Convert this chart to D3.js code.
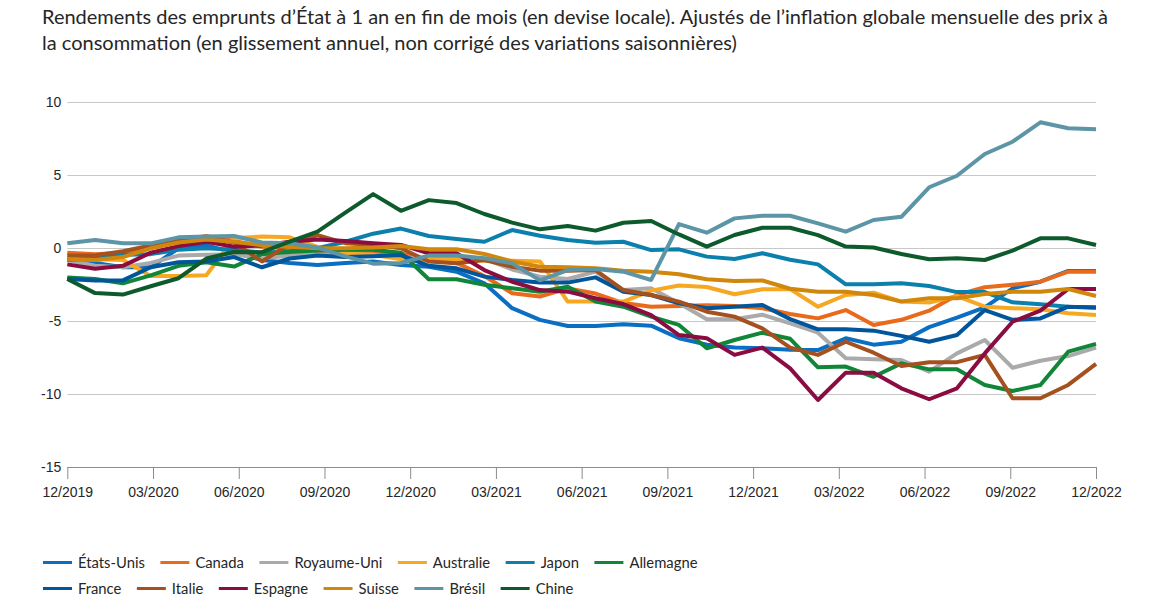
<!DOCTYPE html>
<html>
<head>
<meta charset="utf-8">
<script src="https://cdn.jsdelivr.net/npm/d3@7"></script>
<style>
  html, body { margin: 0; padding: 0; background: #ffffff; }
  svg { display: block; }
</style>
</head>
<body>
<svg id="chart" width="1166" height="607"></svg>
<script>
// ---------------- DATA ----------------
const titleLines = [
  "Rendements des emprunts d\u2019État à 1 an en fin de mois (en devise locale). Ajustés de l\u2019inflation globale mensuelle des prix à",
  "la consommation (en glissement annuel, non corrigé des variations saisonnières)"
];

const tickLabels = ["12/2019","03/2020","06/2020","09/2020","12/2020","03/2021","06/2021",
                    "09/2021","12/2021","03/2022","06/2022","09/2022","12/2022"];

const yTicks = [10, 5, 0, -5, -10, -15];

const countries = ["États-Unis","Canada","Royaume-Uni","Australie","Japon","Allemagne",
                   "France","Italie","Espagne","Suisse","Brésil","Chine"];

const colors = ["#0a6fc2","#ea6a1c","#aaaaaa","#f7a823","#0b80ad","#118538",
                "#00559b","#a5501f","#8a0c40","#d0870b","#5c95a6","#0d5a2c"];

const etatsUnis = [-0.7,-1.0,-1.3,-1.3,0.0,0.2,-0.3,-0.8,-1.0,-1.15,-1.0,-0.9,-1.15,-1.26,-1.6,-2.4,-4.1,-4.9,-5.32,-5.32,-5.2,-5.3,-6.16,-6.6,-6.8,-6.85,-6.95,-6.97,-6.16,-6.6,-6.4,-5.4,-4.75,-4.04,-2.74,-2.29,-1.55,-1.55];
const canada    = [-0.3,-0.4,-0.3,0.1,0.5,0.85,0.5,0.1,0.0,-0.2,-0.3,-0.3,-0.35,-0.8,-1.0,-1.9,-3.08,-3.3,-2.75,-3.1,-3.75,-4.0,-3.95,-3.9,-3.95,-4.1,-4.5,-4.8,-4.23,-5.25,-4.9,-4.27,-3.2,-2.67,-2.5,-2.29,-1.6,-1.6];
const royaumeUni = [-0.8,-1.2,-1.3,-1.0,-0.5,-0.45,-0.4,-0.7,-0.5,-0.4,-0.5,-0.5,-0.6,-0.75,-0.6,-0.7,-1.45,-1.94,-2.1,-1.6,-2.86,-2.74,-3.77,-4.86,-4.86,-4.55,-5.14,-5.78,-7.53,-7.6,-7.65,-8.45,-7.2,-6.28,-8.18,-7.7,-7.38,-6.8];
const australie = [-0.7,-0.75,-0.8,-1.9,-1.9,-1.85,0.7,0.8,0.75,0.1,-0.35,-0.45,-0.75,-0.8,-0.8,-0.85,-0.85,-0.9,-3.65,-3.65,-3.65,-2.9,-2.55,-2.65,-3.15,-2.8,-2.8,-4.0,-3.2,-3.04,-3.65,-3.72,-3.27,-4.0,-4.1,-4.18,-4.45,-4.57];
const japon     = [-0.8,-0.7,-0.45,-0.4,-0.1,0.0,-0.1,-0.3,-0.2,0.0,0.45,1.0,1.35,0.84,0.64,0.45,1.25,0.86,0.57,0.38,0.45,-0.12,-0.07,-0.57,-0.73,-0.34,-0.78,-1.1,-2.47,-2.47,-2.4,-2.58,-3.0,-3.0,-3.7,-3.84,-4.0,-4.04];
const allemagne = [-2.0,-2.1,-2.4,-1.85,-1.2,-0.95,-1.25,-0.4,-0.25,-0.15,-0.1,-0.1,-0.3,-2.12,-2.12,-2.5,-2.74,-2.97,-2.63,-3.65,-4.0,-4.68,-5.25,-6.85,-6.28,-5.78,-6.2,-8.15,-8.1,-8.8,-7.88,-8.29,-8.29,-9.36,-9.77,-9.36,-7.08,-6.55];
const france    = [-2.1,-2.2,-2.2,-1.3,-0.95,-0.9,-0.6,-1.3,-0.7,-0.5,-0.6,-0.55,-0.46,-1.2,-1.37,-1.94,-2.17,-2.35,-2.35,-1.99,-2.97,-3.2,-3.77,-4.1,-4.0,-3.88,-4.85,-5.55,-5.55,-5.64,-6.0,-6.4,-5.94,-4.23,-4.9,-4.8,-4.0,-4.07];
const italie    = [-0.5,-0.5,-0.2,0.2,0.55,0.8,0.4,-0.9,0.3,0.9,0.35,0.25,0.0,-0.9,-1.03,-0.8,-1.26,-1.53,-1.53,-1.49,-2.86,-3.2,-3.65,-4.34,-4.68,-5.48,-6.8,-7.3,-6.4,-7.15,-8.06,-7.8,-7.8,-7.3,-10.27,-10.27,-9.36,-7.92];
const espagne   = [-1.1,-1.4,-1.2,-0.3,0.15,0.45,0.1,0.2,0.45,0.6,0.5,0.35,0.23,-0.34,-0.34,-1.49,-2.29,-2.86,-2.97,-3.42,-3.82,-4.57,-5.94,-6.16,-7.3,-6.8,-8.22,-10.39,-8.52,-8.52,-9.59,-10.34,-9.59,-7.2,-5.03,-4.27,-2.79,-2.79];
const suisse    = [-0.75,-0.8,-0.6,0.0,0.4,0.6,0.45,0.2,0.1,0.0,0.0,0.05,0.15,-0.07,-0.07,-0.39,-0.9,-1.26,-1.3,-1.37,-1.53,-1.6,-1.78,-2.12,-2.24,-2.2,-2.77,-2.97,-2.97,-3.2,-3.65,-3.42,-3.42,-3.13,-2.97,-2.97,-2.79,-3.27];
const bresil    = [0.34,0.57,0.34,0.34,0.75,0.8,0.84,0.4,0.34,0.05,-0.55,-1.05,-1.0,-0.5,-0.5,-0.68,-1.03,-2.2,-1.49,-1.42,-1.6,-2.17,1.66,1.07,2.05,2.23,2.23,1.71,1.14,1.94,2.16,4.18,4.97,6.46,7.3,8.63,8.22,8.15];
const chine     = [-2.1,-3.07,-3.17,-2.6,-2.05,-0.7,-0.25,-0.27,0.45,1.14,2.45,3.71,2.57,3.3,3.1,2.35,1.76,1.3,1.53,1.21,1.75,1.87,0.95,0.11,0.91,1.41,1.41,0.9,0.12,0.05,-0.39,-0.75,-0.68,-0.8,-0.16,0.68,0.68,0.23];

const seriesValues = [etatsUnis, canada, royaumeUni, australie, japon, allemagne,
                      france, italie, espagne, suisse, bresil, chine];

// ---------------- LAYOUT ----------------
const W = 1166, H = 607;
const plot = { left: 67.3, right: 1096, top: 102.3, bottom: 467.3 };
const textColor = "#262626";
const titleFont = "Lato, 'Open Sans', sans-serif";
const axisFont = "'Liberation Sans', Arial, sans-serif";

const svg = d3.select("#chart");
svg.append("rect").attr("width", W).attr("height", H).attr("fill", "#ffffff");

const nPts = etatsUnis.length;
const x = d3.scaleLinear().domain([0, nPts - 1]).range([plot.left, plot.right]);
const xTick = d3.scalePoint().domain(tickLabels).range([plot.left, plot.right]);
const y = d3.scaleLinear().domain([d3.min(yTicks), d3.max(yTicks)]).range([plot.bottom, plot.top]);

// Title (fit first line to the reference width)
const titleG = svg.append("g").attr("font-family", titleFont).attr("fill", textColor);
const probe = titleG.append("text").attr("font-size", 16).text(titleLines[0]);
const titleSize = 16 * 1066 / probe.node().getComputedTextLength();
probe.remove();
titleG.selectAll("text").data(titleLines).join("text")
  .attr("x", 42)
  .attr("y", (d, i) => 24 + i * 25.5)
  .attr("font-size", titleSize)
  .text(d => d);

// Grid lines
svg.append("g").selectAll("line")
  .data(yTicks.filter(v => v !== d3.min(yTicks)))
  .join("line")
  .attr("x1", plot.left).attr("x2", plot.right)
  .attr("y1", d => Math.round(y(d)) + 0.5).attr("y2", d => Math.round(y(d)) + 0.5)
  .attr("stroke", "#c8c8c8").attr("stroke-width", 1);

// Y labels
const yAxis = svg.append("g")
  .attr("transform", `translate(${plot.left},0)`)
  .call(d3.axisLeft(y).tickValues(yTicks).tickSize(0).tickPadding(6).tickFormat(d => String(d)));
yAxis.select(".domain").remove();
yAxis.selectAll("text").attr("font-family", axisFont).attr("font-size", 14).attr("fill", textColor);

// X axis
const xAxis = svg.append("g")
  .attr("transform", `translate(0,${Math.round(plot.bottom)})`)
  .call(d3.axisBottom(xTick).tickSize(12).tickSizeOuter(0).tickPadding(8));
xAxis.select(".domain").attr("stroke", "#8c8c8c");
xAxis.selectAll(".tick line").attr("stroke", "#8c8c8c");
xAxis.selectAll("text").attr("font-family", axisFont).attr("font-size", 14).attr("fill", textColor);

// Lines
const line = d3.line().x((d, i) => x(i)).y(d => y(d));
svg.append("g").selectAll("path")
  .data(seriesValues)
  .join("path")
  .attr("d", d => line(d))
  .attr("fill", "none")
  .attr("stroke", (d, i) => colors[i])
  .attr("stroke-width", 4)
  .attr("stroke-linejoin", "round")
  .attr("stroke-linecap", "butt");

// Legend (flow layout, two rows of six)
const legendSize = 14.8;
const legendG = svg.append("g").attr("font-family", titleFont).attr("fill", textColor);
const rows = [countries.slice(0, 6), countries.slice(6)];
const rowY = [562.5, 588.5];
rows.forEach((names, r) => {
  let cx = 43;
  names.forEach(name => {
    const idx = countries.indexOf(name);
    legendG.append("line")
      .attr("x1", cx).attr("x2", cx + 29)
      .attr("y1", rowY[r]).attr("y2", rowY[r])
      .attr("stroke", colors[idx]).attr("stroke-width", 3);
    const t = legendG.append("text")
      .attr("x", cx + 35).attr("y", rowY[r])
      .attr("dy", "0.36em")
      .attr("font-size", legendSize)
      .text(name);
    cx = cx + 35 + t.node().getComputedTextLength() + 15.5;
  });
});
</script>
</body>
</html>
